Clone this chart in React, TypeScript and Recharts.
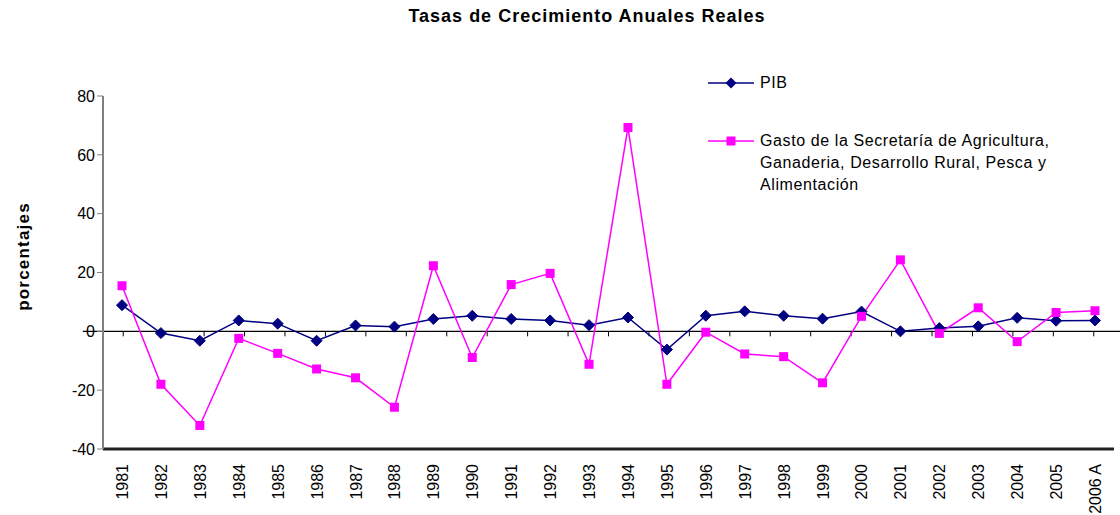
import React from "react";
import { LineChart, Line, XAxis, YAxis, ReferenceLine, Legend } from "recharts";

const years = [
  "1981", "1982", "1983", "1984", "1985", "1986", "1987", "1988", "1989", "1990",
  "1991", "1992", "1993", "1994", "1995", "1996", "1997", "1998", "1999", "2000",
  "2001", "2002", "2003", "2004", "2005", "2006 A",
];

const pib = [
  8.9, -0.6, -3.2, 3.7, 2.6, -3.2, 2.0, 1.6, 4.2, 5.3,
  4.2, 3.7, 2.1, 4.7, -6.2, 5.3, 6.8, 5.3, 4.3, 6.7,
  0.0, 1.1, 1.7, 4.6, 3.6, 3.7,
];

const gasto = [
  15.5, -18.0, -32.0, -2.4, -7.5, -12.8, -15.8, -25.8, 22.3, -8.9,
  15.9, 19.7, -11.2, 69.3, -18.0, -0.3, -7.7, -8.6, -17.5, 5.1,
  24.3, -0.7, 8.0, -3.5, 6.4, 7.0,
];

const yTicks = [-40, -20, 0, 20, 40, 60, 80];

const GASTO_LABEL =
  "Gasto de la Secretaría de Agricultura, Ganaderia, Desarrollo Rural, Pesca y Alimentación";

const data = years.map((year, i) => ({ year, pib: pib[i], gasto: gasto[i] }));

const FONT = '"Liberation Sans", Arial, sans-serif';
const NAVY = "#000080";
const MAGENTA = "#FF00FF";

const Diamond = (props: any) => {
  const { cx, cy } = props;
  if (cx == null || cy == null) return null;
  const r = 5.5;
  return (
    <polygon
      points={`${cx},${cy - r} ${cx + r},${cy} ${cx},${cy + r} ${cx - r},${cy}`}
      fill={NAVY}
      stroke={NAVY}
    />
  );
};

const Square = (props: any) => {
  const { cx, cy } = props;
  if (cx == null || cy == null) return null;
  const s = 9;
  return <rect x={cx - s / 2} y={cy - s / 2} width={s} height={s} fill={MAGENTA} />;
};

const YearTick = (props: any) => {
  const { x, y, payload } = props;
  return (
    <text
      x={0}
      y={0}
      transform={`translate(${x + 6},${y + 7}) rotate(-90)`}
      textAnchor="end"
      fontSize={16}
      fontFamily={FONT}
      fill="#000"
    >
      {payload.value}
    </text>
  );
};

// zero line with the small category ticks hanging below it
// (x1..x2 runs from the first to the last category centre)
const ZeroLine = (props: any) => {
  const { x1, x2, y1 } = props;
  const n = years.length;
  const w = (x2 - x1) / (n - 1);
  const left = x1 - w / 2;
  const right = x2 + w / 2;
  const marks = [];
  for (let i = 1; i < n; i++) {
    const x = left + i * w;
    marks.push(<line key={i} x1={x} x2={x} y1={y1} y2={y1 + 5} stroke="#000" strokeWidth={1} />);
  }
  return (
    <g>
      <line x1={left} x2={right} y1={y1} y2={y1} stroke="#000" strokeWidth={1.2} />
      {marks}
    </g>
  );
};

const LegendBox = () => (
  <div style={{ fontFamily: FONT, fontSize: 16, letterSpacing: 0.6, color: "#000", lineHeight: "22px" }}>
    <div style={{ display: "flex", alignItems: "flex-start" }}>
      <svg width={52} height={22} style={{ flex: "none" }}>
        <line x1={0} x2={46} y1={11} y2={11} stroke={NAVY} strokeWidth={1.5} />
        <polygon points="23,5.5 28.5,11 23,16.5 17.5,11" fill={NAVY} />
      </svg>
      <span>PIB</span>
    </div>
    <div style={{ display: "flex", alignItems: "flex-start", marginTop: 36 }}>
      <svg width={52} height={22} style={{ flex: "none" }}>
        <line x1={0} x2={46} y1={11} y2={11} stroke={MAGENTA} strokeWidth={1.5} />
        <rect x={18.5} y={6.5} width={9} height={9} fill={MAGENTA} />
      </svg>
      <span style={{ width: 330 }}>{GASTO_LABEL}</span>
    </div>
  </div>
);

const App: React.FC = () => {
  return (
    <div style={{ position: "absolute", left: 0, top: 0, width: 1120, height: 515, background: "#fff" }}>
      <div
        style={{
          position: "absolute",
          left: 0,
          top: 6,
          width: 1174,
          textAlign: "center",
          fontFamily: FONT,
          fontWeight: "bold",
          fontSize: 18,
          letterSpacing: 1,
          color: "#000",
        }}
      >
        Tasas de Crecimiento Anuales Reales
      </div>
      <LineChart width={1120} height={515} data={data} margin={{ top: 96, right: 6, bottom: 0, left: 0 }}>
        <XAxis
          dataKey="year"
          interval={0}
          height={66}
          padding={{ left: 19, right: 19 }}
          tickLine={false}
          axisLine={{ stroke: "#222", strokeWidth: 3 }}
          tick={<YearTick />}
        />
        <YAxis
          width={103}
          domain={[-40, 80]}
          ticks={yTicks}
          interval={0}
          tickSize={6}
          axisLine={{ stroke: "#808080", strokeWidth: 2 }}
          tickLine={{ stroke: "#808080" }}
          tick={{ fill: "#000", fontSize: 16, fontFamily: FONT }}
          label={{
            content: (p: any) => {
              const vb = p.viewBox || {};
              const cx = 23;
              const cy = (vb.y || 96) + (vb.height || 353) / 2 - 16;
              return (
                <text
                  x={cx}
                  y={cy}
                  transform={`rotate(-90, ${cx}, ${cy})`}
                  textAnchor="middle"
                  dominantBaseline="central"
                  fontFamily={FONT}
                  fontWeight="bold"
                  fontSize={17}
                  letterSpacing={1.2}
                  fill="#000"
                >
                  porcentajes
                </text>
              );
            },
          }}
        />
        <ReferenceLine y={0} shape={<ZeroLine />} />
        <Legend
          layout="vertical"
          align="center"
          verticalAlign="middle"
          wrapperStyle={{ left: 708, top: 72, width: 400 }}
          content={<LegendBox />}
        />
        <Line
          type="linear"
          dataKey="pib"
          name="PIB"
          stroke={NAVY}
          strokeWidth={1.5}
          dot={<Diamond />}
          activeDot={false}
          isAnimationActive={false}
        />
        <Line
          type="linear"
          dataKey="gasto"
          name={GASTO_LABEL}
          stroke={MAGENTA}
          strokeWidth={1.5}
          dot={<Square />}
          activeDot={false}
          isAnimationActive={false}
        />
      </LineChart>
    </div>
  );
};

export default App;
